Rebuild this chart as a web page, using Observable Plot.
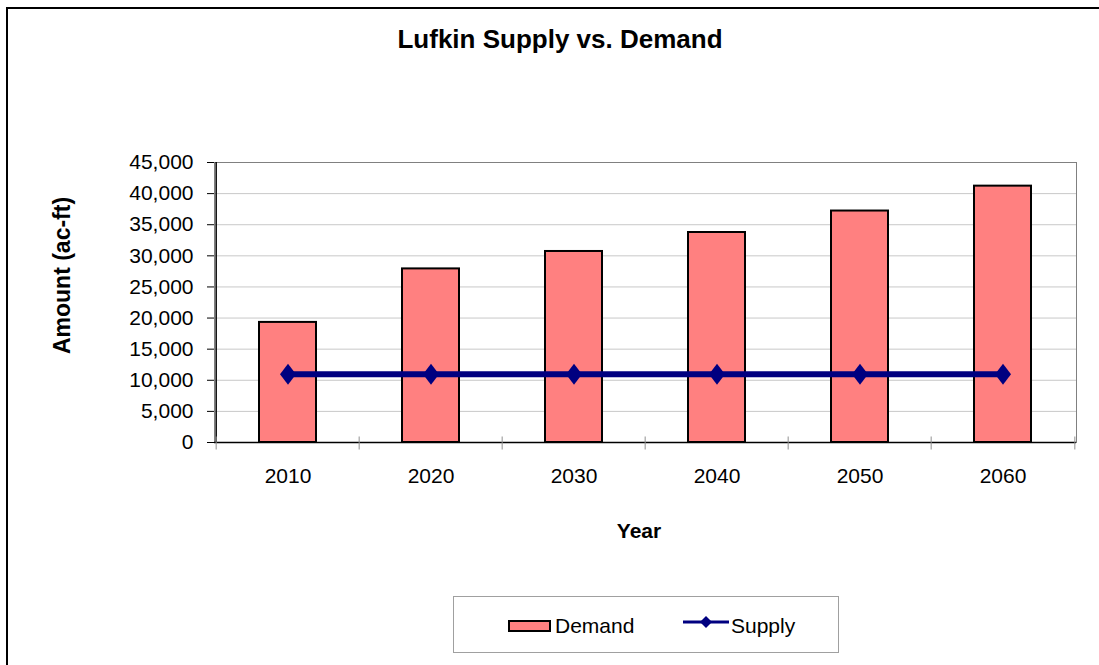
<!DOCTYPE html>
<html>
<head>
<meta charset="utf-8">
<script src="https://cdn.jsdelivr.net/npm/d3@7"></script>
<script src="https://cdn.jsdelivr.net/npm/@observablehq/plot@0.6"></script>
<style>
  html, body { margin: 0; padding: 0; background: #fff; overflow: hidden; }
  #wrap { position: relative; width: 1099px; height: 665px; overflow: hidden; font-family: Arial, "Liberation Sans", sans-serif; color: #000; }
  #outer { position: absolute; left: 6px; top: 7px; width: 1200px; height: 800px; border: 2px solid #000; box-sizing: border-box; }
  #title { position: absolute; left: 260px; width: 600px; top: 26px; text-align: center; font-weight: bold; font-size: 26px; line-height: 26px; }
  #chart { position: absolute; left: 0; top: 70px; }
  #legend { position: absolute; left: 453px; top: 596px; width: 386px; height: 57px; border: 1px solid #a0a0a0; box-sizing: border-box; background: #fff; }
  #legend .lab { position: absolute; top: 18px; font-size: 21px; line-height: 21px; white-space: nowrap; }
</style>
</head>
<body>
<div id="wrap">
  <div id="outer"></div>
  <div id="title"></div>
  <div id="chart"></div>
  <div id="legend"></div>
</div>
<script>
const title = "Lufkin Supply vs. Demand";
const yLabel = "Amount (ac-ft)";
const xLabel = "Year";
const years = [2010, 2020, 2030, 2040, 2050, 2060];
const demand = [19300, 27900, 30700, 33750, 37200, 41200];
const supply = [10950, 10950, 10950, 10950, 10950, 10950];
const yTicks = [0, 5000, 10000, 15000, 20000, 25000, 30000, 35000, 40000, 45000];
const seriesNames = ["Demand", "Supply"];

const data = years.map((year, i) => ({year, demand: demand[i], supply: supply[i]}));

const W = 1099, H = 510;
const mL = 214, mR = 23, mT = 92, mB = 138;
const step = (W - mL - mR) / years.length;

const diamond = {
  draw(ctx) {
    ctx.moveTo(0, -10.5); ctx.lineTo(8, 0); ctx.lineTo(0, 10.5); ctx.lineTo(-8, 0); ctx.closePath();
  }
};
const vtick = {
  draw(ctx) { ctx.moveTo(0, -6); ctx.lineTo(0, 7); }
};

const chart = Plot.plot({
  width: W, height: H,
  marginLeft: mL, marginRight: mR, marginTop: mT, marginBottom: mB,
  style: {fontFamily: 'Arial, "Liberation Sans", sans-serif', fontSize: "21px", color: "#000", background: "transparent", overflow: "visible"},
  x: {type: "band", domain: years, paddingInner: 0.6, paddingOuter: 0.3, align: 0.5},
  y: {domain: [0, 45000]},
  marks: [
    Plot.gridY(yTicks, {stroke: "#c8c8c8", strokeOpacity: 1}),
    Plot.frame({stroke: "#808080"}),
    Plot.barY(data, {x: "year", y: "demand", fill: "#FF8080", stroke: "#000", strokeWidth: 2}),
    Plot.ruleY([0], {stroke: "#000", strokeWidth: 1.5}),
    Plot.ruleX([years[0]], {dx: -step / 2, stroke: "#000", strokeWidth: 1.5}),
    Plot.dot(years, {x: d => d, y: () => 0, dx: -step / 2, symbol: vtick, stroke: "#909090", fill: "none", strokeWidth: 1}),
    Plot.dot([years[years.length - 1]], {x: d => d, y: () => 0, dx: step / 2, symbol: vtick, stroke: "#909090", fill: "none", strokeWidth: 1}),
    Plot.axisY({ticks: yTicks, tickFormat: d3.format(","), tickSize: 7, tickPadding: 14, label: null}),
    Plot.axisX({tickSize: 0, tickPadding: 26, label: null, tickFormat: d => String(d)}),
    Plot.lineY(data, {x: "year", y: "supply", stroke: "#000080", strokeWidth: 6}),
    Plot.dot(data, {x: "year", y: "supply", symbol: diamond, fill: "#000080", stroke: "none"}),
    Plot.text([yLabel], {frameAnchor: "left", textAnchor: "middle", rotate: -90, dx: -152, dy: -27, fontWeight: "bold", fontSize: 23, fill: "#000"}),
    Plot.text([xLabel], {frameAnchor: "bottom", dx: -6.5, dy: 89, lineAnchor: "middle", fontWeight: "bold", fontSize: 21, fill: "#000"})
  ]
});
document.getElementById("chart").appendChild(chart);
document.getElementById("title").textContent = title;

// Legend
const legend = document.getElementById("legend");
legend.innerHTML = `
  <div style="position:absolute;left:54px;top:23px;width:43px;height:12px;background:#FF8080;border:2px solid #000;box-sizing:border-box;"></div>
  <div class="lab" style="left:101px;">${seriesNames[0]}</div>
  <svg style="position:absolute;left:228px;top:18px;" width="48" height="14">
    <line x1="1" x2="47" y1="7" y2="7" stroke="#000080" stroke-width="3"></line>
    <path d="M24,1 L30,7 L24,13 L18,7 Z" fill="#000080"></path>
  </svg>
  <div class="lab" style="left:277px;">${seriesNames[1]}</div>
`;
</script>
</body>
</html>
